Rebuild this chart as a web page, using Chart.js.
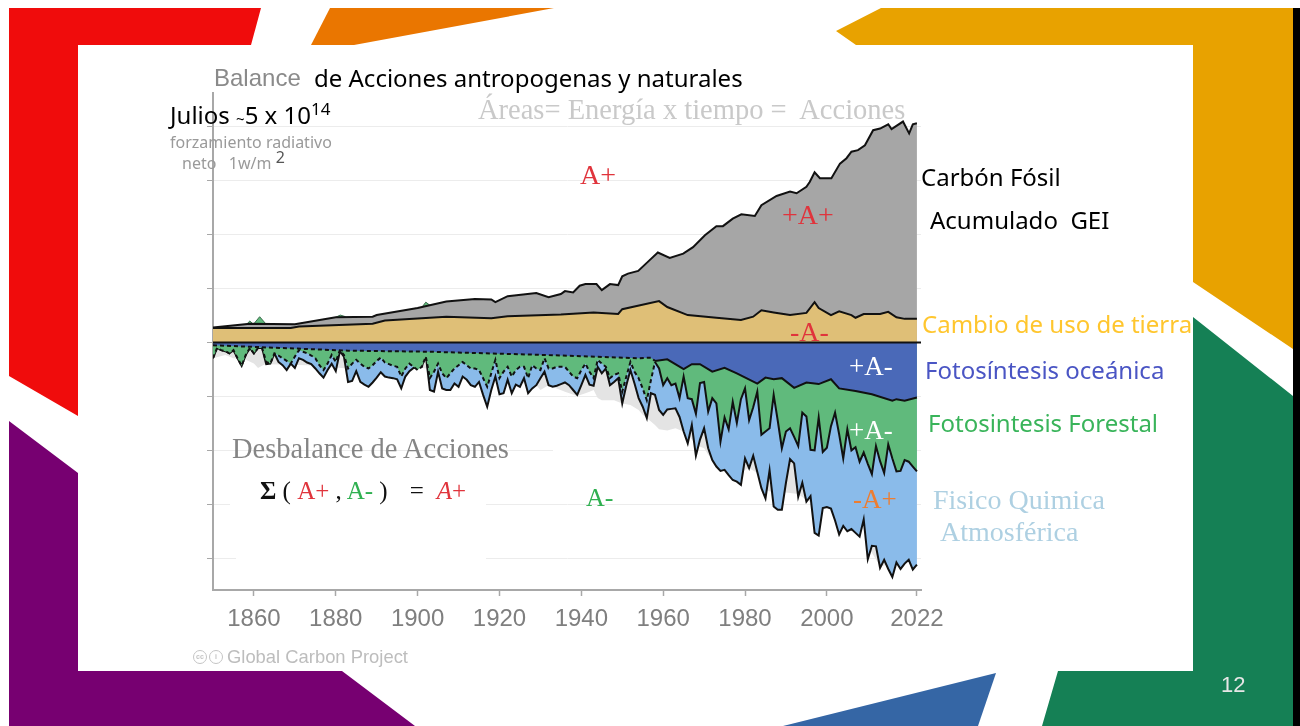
<!DOCTYPE html>
<html>
  <head>
    <title>Balance de Acciones</title>
    <script src="https://cdnjs.cloudflare.com/ajax/libs/Chart.js/4.4.1/chart.umd.min.js"></script>
    <style>
      html, body { margin: 0; padding: 0; background: #fff; overflow: hidden; }
      #page { position: relative; width: 1300px; height: 726px; overflow: hidden; }
      #deco, #myChart { position: absolute; left: 0; top: 0; }
      .mask { position: absolute; background: #fff; }
      .t { position: absolute; white-space: pre; line-height: 1; }
      .sans { font-family: "Noto Sans", sans-serif; }
      .serif { font-family: "Liberation Serif", serif; }
      .arial { font-family: "Liberation Sans", sans-serif; }
      .cc { position: absolute; top: 650px; width: 12px; height: 12px; border: 1.5px solid #c4c4c4; border-radius: 50%;
            font: bold 7px/12px "Liberation Sans", sans-serif; color: #c4c4c4; text-align: center; }
    </style>
  </head>
  <body>
    <div id="page">
      <svg id="deco" width="1300" height="726">
        <polygon fill="#f00c0c" points="9,8 261,8 251,45 78,45 78,416 9,376" />
        <polygon fill="#ea7600" points="330,8 554,8 354,45 311,45" />
        <polygon fill="#e8a200" points="881,8 1293,8 1293,349 1193,282 1193,45 856,45 836,31" />
        <polygon fill="#158055" points="1193,317 1293,396 1293,726 1042,726 1058,671 1193,671" />
        <polygon fill="#770071" points="9,421 78,473 78,671 342,671 415,726 9,726" />
        <polygon fill="#3566a5" points="996,673 978,726 783,726" />
        <rect fill="#000" x="1293" y="8" width="7" height="718" />
      </svg>
      <canvas id="myChart" width="1300" height="726"></canvas>

      <!-- the slide covers part of the gridlines behind its text -->
      <div class="mask" style="left: 230px; top: 470px; width: 256px; height: 50px"></div>
      <div class="mask" style="left: 236px; top: 520px; width: 250px; height: 55px"></div>
      <div class="mask" style="left: 553px; top: 446px; width: 17px; height: 8px"></div>

      <div class="t arial" style="left: 214px; top: 66px; font-size: 24px; color: #8a8a8a">Balance</div>
      <div class="t sans" style="left: 314px; top: 66px; font-size: 24px; color: #000">de Acciones antropogenas y naturales</div>
      <div class="t serif" style="left: 478px; top: 96px; font-size: 28.5px; color: #c9c9c9">Áreas= Energía x tiempo =  Acciones</div>

      <div class="t sans" style="left: 170px; top: 103px; font-size: 24px; color: #000">Julios <span style="font-size: 15px">~</span>5 x 10<sup style="font-size: 17px; line-height: 0">14</sup></div>
      <div class="t sans" style="left: 170px; top: 134px; font-size: 16px; color: #9a9a9a">forzamiento radiativo</div>
      <div class="t sans" style="left: 182px; top: 155px; font-size: 16px; color: #9a9a9a">neto   1w/m <sup style="font-size: 16px; line-height: 0; color: #555">2</sup></div>

      <div class="t serif" style="left: 580px; top: 161px; font-size: 28px; color: #e0343c">A+</div>
      <div class="t serif" style="left: 782px; top: 201px; font-size: 28px; color: #e0343c">+A+</div>
      <div class="t serif" style="left: 790px; top: 318px; font-size: 28px; color: #e0343c">-A-</div>
      <div class="t serif" style="left: 849px; top: 353px; font-size: 27px; color: #fff">+A-</div>
      <div class="t serif" style="left: 849px; top: 417px; font-size: 27px; color: #fff">+A-</div>
      <div class="t serif" style="left: 853px; top: 486px; font-size: 27px; color: #ed7d31">-A+</div>
      <div class="t serif" style="left: 586px; top: 485px; font-size: 26px; color: #2fb050">A-</div>

      <div class="t sans" style="left: 921px; top: 165px; font-size: 24px; color: #000">Carbón Fósil</div>
      <div class="t sans" style="left: 930px; top: 208px; font-size: 24px; color: #000">Acumulado  GEI</div>
      <div class="t sans" style="left: 922px; top: 312px; font-size: 24px; color: #ffc62e">Cambio de uso de tierra</div>
      <div class="t sans" style="left: 925px; top: 358px; font-size: 24px; color: #4a55c4">Fotosíntesis oceánica</div>
      <div class="t sans" style="left: 928px; top: 411px; font-size: 24px; color: #39b45a">Fotosintesis Forestal</div>
      <div class="t serif" style="left: 933px; top: 486px; font-size: 28px; color: #aed0e2">Fisico Quimica</div>
      <div class="t serif" style="left: 940px; top: 518px; font-size: 28px; color: #aed0e2">Atmosférica</div>

      <div class="t serif" style="left: 232px; top: 435px; font-size: 28.5px; color: #858585">Desbalance de Acciones</div>
      <div class="t serif" style="left: 260px; top: 478px; font-size: 25px; color: #111"><b>Σ</b> ( <span style="color: #e0343c">A+</span> , <span style="color: #2fb050">A-</span> )<span style="margin-left: 22px">=</span><i style="color: #e0343c; margin-left: 13px">A</i><span style="color: #e0343c">+</span></div>

      <div class="cc" style="left: 193px">cc</div>
      <div class="cc" style="left: 209px">i</div>
      <div class="t arial" style="left: 227px; top: 648px; font-size: 18.4px; color: #bdbdbd">Global Carbon Project</div>

      <div class="t arial" style="left: 1221px; top: 674px; font-size: 22px; color: #e6e6e6">12</div>
    </div>

    <script>
      const xTicks = [1860, 1880, 1900, 1920, 1940, 1960, 1980, 2000, 2022];
      const yTicks = [40, 30, 20, 10, 0, -10, -20, -30, -40];

      // Years for the two sinks that are read year by year
      const years = [
        1850, 1851, 1852, 1853, 1854, 1855, 1856, 1857, 1858, 1859,
        1860, 1861, 1862, 1863, 1864, 1865, 1866, 1867, 1868, 1869,
        1870, 1871, 1872, 1873, 1874, 1875, 1876, 1877, 1878, 1879,
        1880, 1881, 1882, 1883, 1884, 1885, 1886, 1887, 1888, 1889,
        1890, 1891, 1892, 1893, 1894, 1895, 1896, 1897, 1898, 1899,
        1900, 1901, 1902, 1903, 1904, 1905, 1906, 1907, 1908, 1909,
        1910, 1911, 1912, 1913, 1914, 1915, 1916, 1917, 1918, 1919,
        1920, 1921, 1922, 1923, 1924, 1925, 1926, 1927, 1928, 1929,
        1930, 1931, 1932, 1933, 1934, 1935, 1936, 1937, 1938, 1939,
        1940, 1941, 1942, 1943, 1944, 1945, 1946, 1947, 1948, 1949,
        1950, 1951, 1952, 1953, 1954, 1955, 1956, 1957, 1958, 1959,
        1960, 1961, 1962, 1963, 1964, 1965, 1966, 1967, 1968, 1969,
        1970, 1971, 1972, 1973, 1974, 1975, 1976, 1977, 1978, 1979,
        1980, 1981, 1982, 1983, 1984, 1985, 1986, 1987, 1988, 1989,
        1990, 1991, 1992, 1993, 1994, 1995, 1996, 1997, 1998, 1999,
        2000, 2001, 2002, 2003, 2004, 2005, 2006, 2007, 2008, 2009,
        2010, 2011, 2012, 2013, 2014, 2015, 2016, 2017, 2018, 2019,
        2020, 2021, 2022,
      ];

      // lower edge of the light blue band
      const atmosphereEdge = [
        -2.9, -1, -1.4, -1.6, -2, -1.4, -2.9, -4.3, -2.3, -1,
        -2, -1, -1, -4, -3.9, -2, -3.6, -4.2, -5.1, -3.9,
        -4.7, -2.9, -3.2, -3.7, -4, -4.8, -5.7, -6.5, -5.1, -3.9,
        -5.3, -1.6, -2.6, -7.3, -7.1, -5.3, -7.3, -7.8, -8.2, -7.4,
        -6.5, -5.5, -6.3, -6.5, -6.6, -6.8, -8.5, -6.3, -5.3, -4.7,
        -4.5, -4.5, -2.3, -8.8, -9.1, -5.4, -8.5, -8.8, -8.8, -7.6,
        -8.2, -6.3, -6.9, -7.9, -8.2, -7.3, -9.7, -11.9, -8.8, -6.3,
        -9.6, -9.4, -6.9, -9.4, -7.8, -8.2, -6.6, -9.4, -8.5, -7.9,
        -6.6, -5.4, -7.9, -8.2, -8, -7.7, -7.4, -7.9, -8.8, -9.7,
        -7.9, -6, -7.8, -8, -4.5, -5.7, -4.8, -7.9, -7.3, -6.6,
        -11.3, -7.9, -5.1, -7.6, -10.3, -11.9, -14, -9.4, -9.7, -12.5,
        -13.4, -12.4, -12.3, -12.2, -13.8, -16.5, -18.7, -15.3, -21, -18,
        -15.9, -19.6, -21.8, -23, -23.8, -23.6, -24.6, -25.5, -25.8, -26.4,
        -21.5, -23.3, -21, -24, -27, -28.9, -23.7, -30.4, -31, -31,
        -26, -21.6, -22.4, -28.6, -26, -29.5, -28.5, -35.3, -35.8, -30.7,
        -30.5, -30.8, -33, -35.6, -34, -35, -34.6, -35.3, -36, -32.8,
        -40.2, -37.7, -37.8, -41.8, -40.3, -42, -43.5, -40.8, -42, -41,
        -40.3, -42.1, -41.2,
      ];

      // boundary between green and light blue, dashed before 1958
      const forestEdge = [
        -2.9, -1, -1.4, -1.6, -2, -1.4, -2.9, -4.3, -2.3, -1,
        -2, -1, -1, -3.6, -3.9, -2, -2.4, -2.9, -3.4, -3.9,
        -2.6, -1.4, -1.7, -2, -2.4, -2.9, -4.2, -5.1, -3.9, -2.3,
        -3.6, -1.4, -2.3, -4.8, -3.9, -3.2, -3.9, -4.5, -4.8, -4.2,
        -3.4, -2.8, -3.7, -4, -4.3, -4.5, -6.3, -4.8, -3.9, -4.5,
        -5.1, -4.5, -2.6, -6.6, -5.4, -3.9, -5.7, -6.6, -5.7, -4.8,
        -4.2, -3.6, -4.2, -4.8, -4.8, -5.1, -6.6, -8.2, -5.7, -3.2,
        -6.6, -5.4, -4.5, -6.3, -5.1, -4.5, -4.5, -6.6, -4.2, -4.8,
        -5.1, -2.9, -4.8, -4.8, -4.5, -4.5, -4.5, -5.4, -6.3, -6.6,
        -5.1, -3.9, -5.4, -6.6, -3.2, -3.9, -4.5, -6.6, -6, -5.7,
        -9.1, -6.3, -3.6, -5.4, -6.6, -8.5, -10.7, -7, -3.6, -4.8,
        -7.9, -6.6, -7.9, -7.6, -10.3, -6.3, -10.3, -10.5, -13.2, -7.5,
        -7.3, -12.8, -10.3, -11.3, -18.4, -13.9, -16.1, -11, -14.9, -10.5,
        -8.5, -14.4, -12, -9.1, -17.1, -16.5, -15.9, -9.7, -14.5, -19.6,
        -16.5, -15.9, -17.5, -19.2, -13, -13.7, -19.9, -20, -13.9, -20.3,
        -19.5, -15.5, -13, -17, -21.5, -16.1, -20, -19.4, -22.1, -20.4,
        -22.5, -24.4, -19.2, -22, -24.2, -18.9, -21.5, -23.9, -23.8, -21.8,
        -22.1, -23, -23.9,
      ];

      // lower edge of the dark blue band
      const oceanYears = [
        1850, 1883, 1903, 1931, 1954, 1957, 1958, 1961, 1965, 1967, 1969, 1972, 1975, 1978,
        1983, 1985, 1987, 1989, 1992, 1995, 1998, 2001, 2003, 2007, 2011, 2016, 2017, 2019, 2022,
      ];
      const oceanEdge = [
        -0.5, -1.5, -1.7, -2.3, -2.9, -2.8, -3.4, -3.1, -4.9, -4, -4, -5.4, -4.7, -5.7,
        -7.6, -6.5, -6.8, -6.6, -8.4, -7.4, -7.7, -6.8, -8.5, -9, -9.6, -10.8, -10.5, -10.8, -10.2,
      ];

      // pale grey budget imbalance that shows under the sinks
      const imbalanceYears = [
        1850, 1853, 1855, 1857, 1858, 1860, 1861, 1863, 1864, 1873, 1883, 1900, 1929, 1930, 1932, 1934,
        1936, 1939, 1941, 1942, 1943, 1944, 1945, 1948, 1950, 1952, 1954, 1955, 1956, 1958, 1959, 1961,
        1963, 1965, 1967, 1968, 1970, 1971, 1974, 1977, 1979, 1981, 1983, 1985, 1987, 1990, 1993, 1995,
        1997, 2004, 2007, 2008, 2009, 2010, 2011, 2013, 2022,
      ];
      const imbalanceEdge = [
        -2.9, -2.3, -2.9, -2.9, -3.2, -3.9, -4.7, -3.9, -4, -4.2, -4.8, -4.6, -7.9, -8.8, -7.9, -8.5,
        -9.1, -9.9, -9.4, -9.1, -8.8, -10.3, -10.7, -10.7, -11.3, -11.6, -12.5, -13.4, -14, -15.3, -16.1, -16.3,
        -15.9, -16.5, -18, -19, -19.6, -20.8, -23.3, -24.2, -23.9, -23.3, -24.2, -27.3, -27.9, -27.8, -28.1, -29.2,
        -30, -31, -33.6, -36, -34, -38, -39, -41.5, -40,
      ];

      const fossilYears = [
        1850, 1859, 1870, 1880, 1889, 1890, 1900, 1907, 1914, 1918, 1919, 1922, 1929, 1932, 1935, 1936,
        1938, 1939.6, 1941, 1943.7, 1945, 1947, 1949, 1950, 1951.4, 1953.9, 1956.7, 1958.7, 1961.6, 1964.9,
        1967.3, 1970.2, 1973, 1974.6, 1977, 1979.1, 1982.4, 1984, 1987.7, 1991, 1992.6, 1995, 1995.8, 1997,
        1998.3, 2001.1, 2003.2, 2004.8, 2006, 2007.6, 2009.3, 2011.3, 2013, 2015, 2015.8, 2018.6, 2020.1, 2021, 2022,
      ];
      const fossilTop = [
        2.8, 3.5, 3.4, 4.7, 4.8, 5.1, 6.4, 7.6, 8.1, 8, 7.5, 8.6, 9.2, 8.4, 9, 9.55,
        9.3, 10.55, 10.85, 10.85, 9.74, 10.85, 10.66, 12.3, 12.8, 13.3, 15.3, 16.7, 15.7, 16.5,
        17.7, 19.9, 21.6, 21.6, 23, 23.8, 23.5, 25.5, 27.2, 28, 27.7, 28.9, 29.8, 31.6,
        30.5, 30.5, 33.2, 34.2, 35.4, 35.7, 36.6, 39.4, 39.7, 40.5, 39.6, 41, 38.8, 40.5, 40.7,
      ];

      const landUseYears = [
        1850, 1869, 1871, 1889, 1892, 1907, 1918, 1922, 1935, 1943, 1949, 1950, 1959, 1961, 1966, 1973,
        1979, 1982, 1984, 1987, 1991, 1995, 1997, 1998, 2001, 2003, 2006, 2007, 2009, 2013, 2015, 2017, 2019, 2022,
      ];
      const landUseTop = [
        2.7, 2.7, 3, 3.5, 4.1, 4.8, 4.5, 4.9, 5.2, 5.6, 5.3, 6.2, 7.7, 6.6, 5.1, 4.6,
        4.2, 4.8, 6, 5.6, 5.1, 5.5, 7.5, 6.4, 5.1, 5.8, 5.1, 4.6, 5.3, 5.3, 5.7, 4.7, 4.4, 4.4,
      ];

      // little green tips that poke out above the grey band
      const tipYears = [1858.2, 1859, 1859.7, 1859.8, 1860, 1861.4, 1863, 1863.1, 1880, 1881.1, 1882.4, 1882.5, 1901, 1902, 1903.2];
      const tipTop = [3.4, 4.0, 3.5, null, 3.5, 4.8, 3.4, null, 4.7, 5.1, 4.8, null, 6.5, 7.5, 6.8];

      const zeroYears = [1850, 2023];
      const zeroLine = [0, 0];

      const pts = (xs, ys) => xs.map((x, i) => ({ x: x, y: ys[i] }));

      const band = (values, fillColor, order, line) => ({
        data: values,
        order: order,
        fill: "origin",
        backgroundColor: fillColor,
        borderColor: line || "#111",
        borderWidth: 2,
        pointRadius: 0,
        tension: 0,
        spanGaps: false,
      });
      const dashedBefore1958 = { borderDash: (ctx) => (ctx.p0.parsed.x < 1958 ? [4, 3] : undefined) };

      const chart = new Chart(document.getElementById("myChart"), {
        type: "line",
        data: {
          datasets: [
            { ...band(pts(zeroYears, zeroLine), "transparent", 0), fill: false },
            { ...band(pts(oceanYears, oceanEdge), "#4a69b8", 1), segment: dashedBefore1958 },
            { ...band(pts(years, forestEdge), "#60ba7c", 2), segment: dashedBefore1958 },
            band(pts(years, atmosphereEdge), "#8abbea", 3),
            band(pts(imbalanceYears, imbalanceEdge), "#e4e4e4", 4, "transparent"),
            band(pts(landUseYears, landUseTop), "#dfbf77", 5),
            band(pts(fossilYears, fossilTop), "#a6a6a6", 6),
            { ...band(pts(tipYears, tipTop), "#60ba7c", 7, "#3c6b4c"), borderWidth: 1 },
          ],
        },
        options: {
          responsive: false,
          animation: false,
          layout: { padding: { left: 207, right: 379, top: 93, bottom: 96 } },
          plugins: { legend: { display: false }, tooltip: { enabled: false } },
          scales: {
            x: {
              type: "linear",
              min: 1850,
              max: 2023,
              afterBuildTicks: (s) => { s.ticks = xTicks.map((v) => ({ value: v })); },
              afterFit: (s) => { s.height = 40; },
              grid: { display: true, drawOnChartArea: false, color: "#a8a8a8", tickLength: 6, tickWidth: 1.5 },
              border: { color: "#a8a8a8", width: 2 },
              ticks: {
                color: "#7f7f7f",
                padding: 9,
                maxRotation: 0,
                autoSkip: false,
                font: { family: "'Liberation Sans'", size: 24 },
                callback: (v) => String(v),
              },
            },
            y: {
              type: "linear",
              min: -45.9,
              max: 46.3,
              afterBuildTicks: (s) => { s.ticks = yTicks.map((v) => ({ value: v })); },
              afterFit: (s) => { s.width = 6; },
              grid: { color: "#ececec", tickColor: "#a8a8a8", tickLength: 6, lineWidth: 1 },
              border: { color: "#a8a8a8", width: 2 },
              ticks: { display: false },
            },
          },
        },
      });
    </script>
  </body>
</html>
